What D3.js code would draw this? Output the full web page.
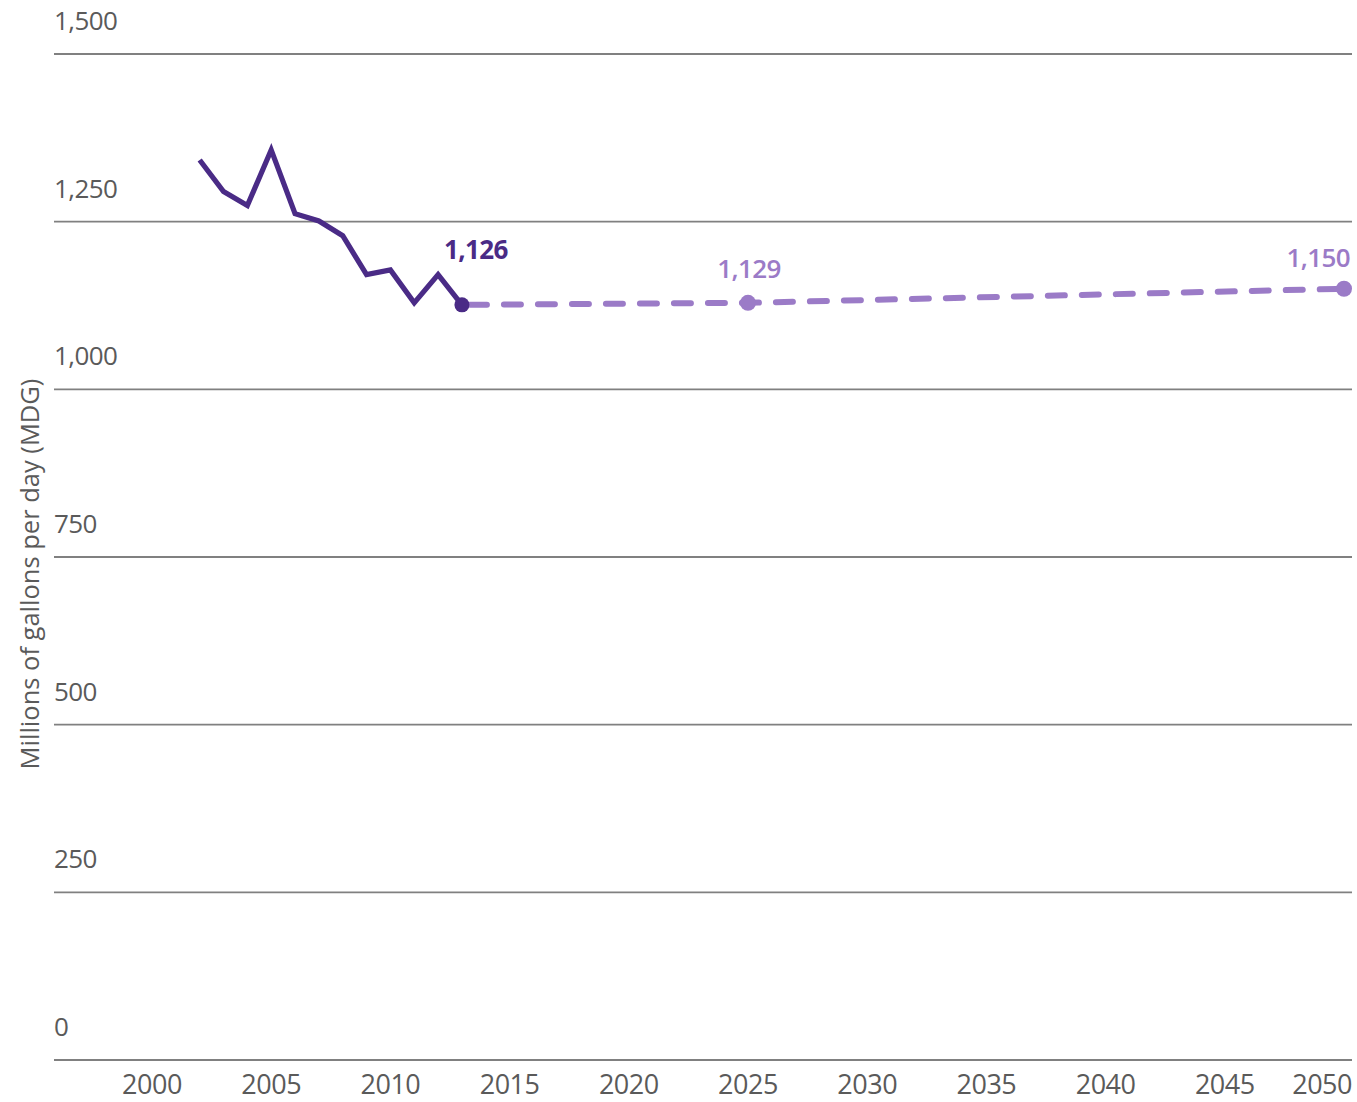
<!DOCTYPE html>
<html>
<head>
<meta charset="utf-8">
<script src="https://cdn.jsdelivr.net/npm/d3@7/dist/d3.min.js"></script>
<style>
  html, body { margin: 0; padding: 0; background: #fff; }
  svg { display: block; }
  text { font-family: "Open Sans", "Noto Sans", sans-serif; }
</style>
</head>
<body>
<svg id="chart" width="1357" height="1102"></svg>
<script>
// Historical water demand (MGD), 2002–2013
const histYears  = [2002, 2003, 2004, 2005, 2006, 2007, 2008, 2009, 2010, 2011, 2012, 2013];
const histValues = [1342, 1295, 1274, 1357, 1262, 1251, 1229, 1171, 1178, 1129, 1171, 1126];

// Projected demand, from the last observed year out to 2050
const projYears  = [2013, 2025, 2050];
const projValues = [1126, 1129, 1150];

// Axis ticks
const yTicks = [0, 250, 500, 750, 1000, 1250, 1500];
const xTicks = [2000, 2005, 2010, 2015, 2020, 2025, 2030, 2035, 2040, 2045, 2050];

const yTitle = "Millions of gallons per day (MDG)";

const histColor = "#4a2b86";
const projColor = "#9b7bc7";
const gridColor = "#808080";
const textColor = "#5a5a5a";

const svg = d3.select("#chart");

const x = d3.scaleLinear().domain([2000, 2050]).range([152, 1344]);
const y = d3.scaleLinear().domain([0, 1500]).range([1060, 54]);
const gridLeft = 54, gridRight = 1352;

// Horizontal gridlines with labels sitting above each line
const grid = svg.append("g");
grid.selectAll("line").data(yTicks).join("line")
  .attr("x1", gridLeft).attr("x2", gridRight)
  .attr("y1", d => y(d)).attr("y2", d => y(d))
  .attr("stroke", gridColor).attr("stroke-width", 1.8);
grid.selectAll("text").data(yTicks).join("text")
  .attr("x", gridLeft).attr("y", d => y(d) - 24)
  .attr("fill", textColor).attr("font-size", 26)
  .attr("letter-spacing", -0.6)
  .text(d => d3.format(",")(d));

// Year labels under the baseline; the last one is pulled in to the right edge
svg.append("g").selectAll("text").data(xTicks).join("text")
  .attr("x", d => d === 2050 ? gridRight : x(d))
  .attr("y", 1094)
  .attr("text-anchor", d => d === 2050 ? "end" : "middle")
  .attr("fill", textColor).attr("font-size", 27)
  .attr("letter-spacing", -0.5)
  .text(d => d);

// Rotated y-axis title
svg.append("text")
  .attr("transform", `translate(39, 574) rotate(-90)`)
  .attr("text-anchor", "middle")
  .attr("fill", textColor).attr("font-size", 25.5)
  .text(yTitle);

// Projection: dashed line
const proj = projYears.map((yr, i) => ({ yr, v: projValues[i] }));
svg.append("path").datum(proj)
  .attr("d", d3.line().x(d => x(d.yr)).y(d => y(d.v)))
  .attr("fill", "none").attr("stroke", projColor)
  .attr("stroke-width", 6).attr("stroke-linecap", "round")
  .attr("stroke-dasharray", "17,17").attr("stroke-dashoffset", -8);

// Historical series: solid line
const hist = histYears.map((yr, i) => ({ yr, v: histValues[i] }));
svg.append("path").datum(hist)
  .attr("d", d3.line().x(d => x(d.yr)).y(d => y(d.v)))
  .attr("fill", "none").attr("stroke", histColor)
  .attr("stroke-width", 5.2).attr("stroke-linejoin", "miter");

// Marker dots and value labels
const last = hist[hist.length - 1];
const markers = [
  { yr: last.yr, v: last.v, color: histColor, r: 7.5, dx: 14, dy: -46, anchor: "middle", weight: 700 },
  { yr: proj[1].yr, v: proj[1].v, color: projColor, r: 8, dx: 1, dy: -25, anchor: "middle", weight: 600 },
  { yr: proj[2].yr, v: proj[2].v, color: projColor, r: 8, dx: 6, dy: -22, anchor: "end", weight: 600 }
];
svg.append("g").selectAll("circle").data(markers).join("circle")
  .attr("cx", d => x(d.yr)).attr("cy", d => y(d.v))
  .attr("r", d => d.r).attr("fill", d => d.color);
svg.append("g").selectAll("text").data(markers).join("text")
  .attr("x", d => x(d.yr) + d.dx).attr("y", d => y(d.v) + d.dy)
  .attr("text-anchor", d => d.anchor)
  .attr("fill", d => d.color).attr("font-size", 26)
  .attr("font-weight", d => d.weight).attr("letter-spacing", -0.6)
  .text(d => d3.format(",")(d.v));
</script>
</body>
</html>
